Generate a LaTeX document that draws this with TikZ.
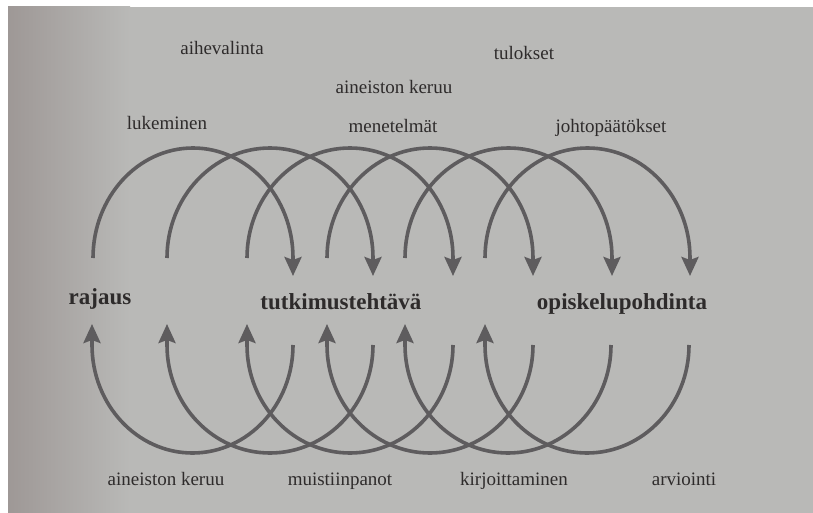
\documentclass[tikz,border=0pt]{standalone}
\usepackage{fontspec}
\setmainfont{Liberation Serif}
\usetikzlibrary{arrows.meta}
\definecolor{page}{HTML}{B9B9B7}
\definecolor{pageedge}{HTML}{9E9896}
\definecolor{arc}{HTML}{5E5C5E}
\definecolor{ink}{HTML}{2E2B2B}
\tikzset{
  lbl/.style={text=ink, inner sep=0pt, font=\fontsize{19}{22}\selectfont},
  key/.style={text=ink, inner sep=0pt, font=\fontsize{23}{26}\selectfont\bfseries},
  loop/.style={draw=arc, line width=3.6pt, -{Stealth[length=19pt, width=17pt, inset=3pt]}}
}
\begin{document}
\begin{tikzpicture}[x=1pt, y=-1pt]
\useasboundingbox (0,0) rectangle (813,513);
\fill[white] (0,0) rectangle (813,513);
\fill[page] (8,7) rectangle (813,513);
\shade[left color=pageedge, right color=page] (8,7) rectangle (130,513);

% labels
\node[lbl] (aihe) at (222,48) {aihevalinta};
\node[lbl] (tul) at (524,53) {tulokset};
\node[lbl] (ainT) at (394,87) {aineiston keruu};
\node[lbl] (luk) at (167,123) {lukeminen};
\node[lbl] (men) at (393,126) {menetelmät};
\node[lbl] (joh) at (611,128) {johtopäätökset};
\node[key] (raj) at (100,299) {rajaus};
\node[key] (tut) at (341,302) {tutkimustehtävä};
\node[key] (opi) at (622,304) {opiskelupohdinta};
\node[lbl] (ainB) at (166,479) {aineiston keruu};
\node[lbl] (mui) at (340,481) {muistiinpanot};
\node[lbl] (kir) at (514,481) {kirjoittaminen};
\node[lbl] (arv) at (684,479) {arviointi};

% top arcs: start (left) and arrow tip (right)
\foreach \i/\a/\b in {1/93/293, 2/167/373, 3/247/453, 4/327/533, 5/405/612, 6/485/690} {
  \coordinate (ts\i) at (\a,258);
  \coordinate (te\i) at (\b,276);
  \pgfmathsetmacro{\r}{(\b-\a)/2}
  \draw[loop] (ts\i) arc[start angle=180, end angle=0, x radius=\r pt, y radius=110pt] -- (te\i);
}
% bottom arcs: start (right) and arrow tip (left)
\foreach \i/\a/\b in {1/92/293, 2/167/373, 3/247/453, 4/327/533, 5/405/611, 6/485/689} {
  \coordinate (bs\i) at (\b,345);
  \coordinate (be\i) at (\a,324);
  \pgfmathsetmacro{\r}{(\b-\a)/2}
  \draw[loop] (bs\i) arc[start angle=0, end angle=-180, x radius=\r pt, y radius=108pt] -- (be\i);
}
\end{tikzpicture}
\end{document}
